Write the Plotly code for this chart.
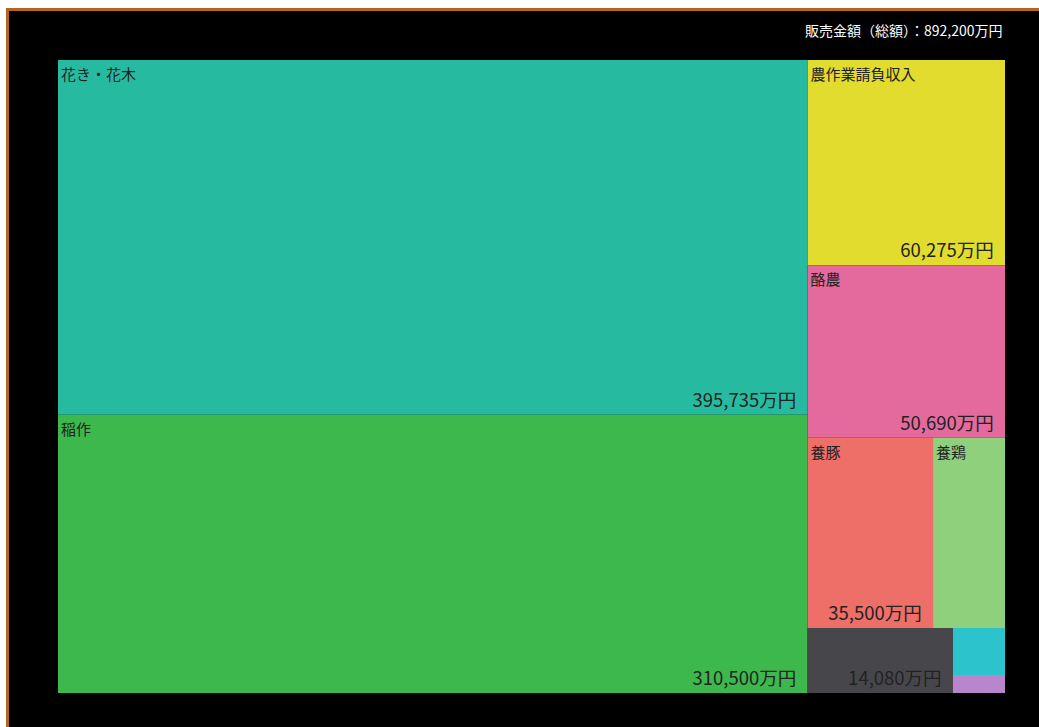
import plotly.graph_objects as go

# ---- data ----
labels = ["花き・花木", "稲作", "農作業請負収入", "酪農", "養豚", "養鶏", "その他", "その他（２）", "その他（３）"]
values = [395735, 310500, 60275, 50690, 35500, 20370, 14080, 3650, 1400]
name_text = ["花き・花木", "稲作", "農作業請負収入", "酪農", "養豚", "養鶏", "", "", ""]
value_text = ["395,735万円", "310,500万円", "60,275万円", "50,690万円", "35,500万円", "", "14,080万円", "", ""]
colors = ["#26bba0", "#3cb84c", "#e2dc2e", "#e46a9e", "#ee6e68", "#8fd07c", "#47474b", "#2cc4cc", "#b886cc"]
total_label = "販売金額（総額）：892,200万円"

W_PX, H_PX = 1039, 727
L, R, T, B = 58, 34, 60, 34
PW, PH = W_PX - L - R, H_PX - T - B

parents = [""] * len(labels)
font_family = "Noto Sans CJK JP, Noto Sans, sans-serif"
pad_right = "\u00a0\u00a0"

common = dict(
    labels=labels, parents=parents, values=values,
    sort=True,
    tiling=dict(packing="squarify", squarifyratio=1.5, pad=0),
    pathbar=dict(visible=False),
    domain=dict(x=[0, 1], y=[0, 1]),
)

fig = go.Figure()
fig.add_trace(go.Treemap(
    **common,
    marker=dict(colors=colors, line=dict(width=0), pad=dict(t=0, l=0, r=0, b=0)),
    text=name_text, texttemplate="%{text}",
    textposition="top left",
    textfont=dict(family=font_family, size=15, color="#222222"),
    hoverinfo="label+value",
))
fig.add_trace(go.Treemap(
    **common,
    marker=dict(colors=["rgba(0,0,0,0)"] * len(labels), line=dict(width=0), pad=dict(t=0, l=0, r=0, b=0)),
    text=[(t + pad_right) if t else "" for t in value_text], texttemplate="%{text}",
    textposition="bottom right",
    textfont=dict(family=font_family, size=18.5, color="#222222"),
    hoverinfo="skip",
))

def px_x(px):
    return (px - L) / PW

def px_y(py):
    return (H_PX - B - py) / PH

shapes = [
    dict(type="rect", xref="paper", yref="paper", x0=px_x(0), x1=px_x(6), y0=px_y(H_PX + 5), y1=px_y(-5),
         fillcolor="#ffffff", line=dict(width=0), layer="above"),
    dict(type="rect", xref="paper", yref="paper", x0=px_x(0), x1=px_x(W_PX + 5), y0=px_y(8), y1=px_y(-5),
         fillcolor="#ffffff", line=dict(width=0), layer="above"),
    dict(type="line", xref="paper", yref="paper", x0=px_x(7.5), x1=px_x(7.5), y0=px_y(H_PX + 5), y1=px_y(8.5),
         line=dict(color="#b5651d", width=3), layer="above"),
    dict(type="line", xref="paper", yref="paper", x0=px_x(6), x1=px_x(W_PX + 5), y0=px_y(9.5), y1=px_y(9.5),
         line=dict(color="#b5651d", width=3), layer="above"),
]

fig.update_layout(
    width=W_PX, height=H_PX,
    margin=dict(l=L, r=R, t=T, b=B, pad=0),
    paper_bgcolor="#000000",
    plot_bgcolor="#000000",
    showlegend=False,
    shapes=shapes,
    annotations=[dict(
        text=total_label, xref="paper", yref="paper", x=1, y=1,
        xanchor="right", yanchor="bottom", yshift=18, showarrow=False,
        font=dict(family=font_family, size=14, color="#ffffff"),
    )],
)

fig.write_html("out.html")
